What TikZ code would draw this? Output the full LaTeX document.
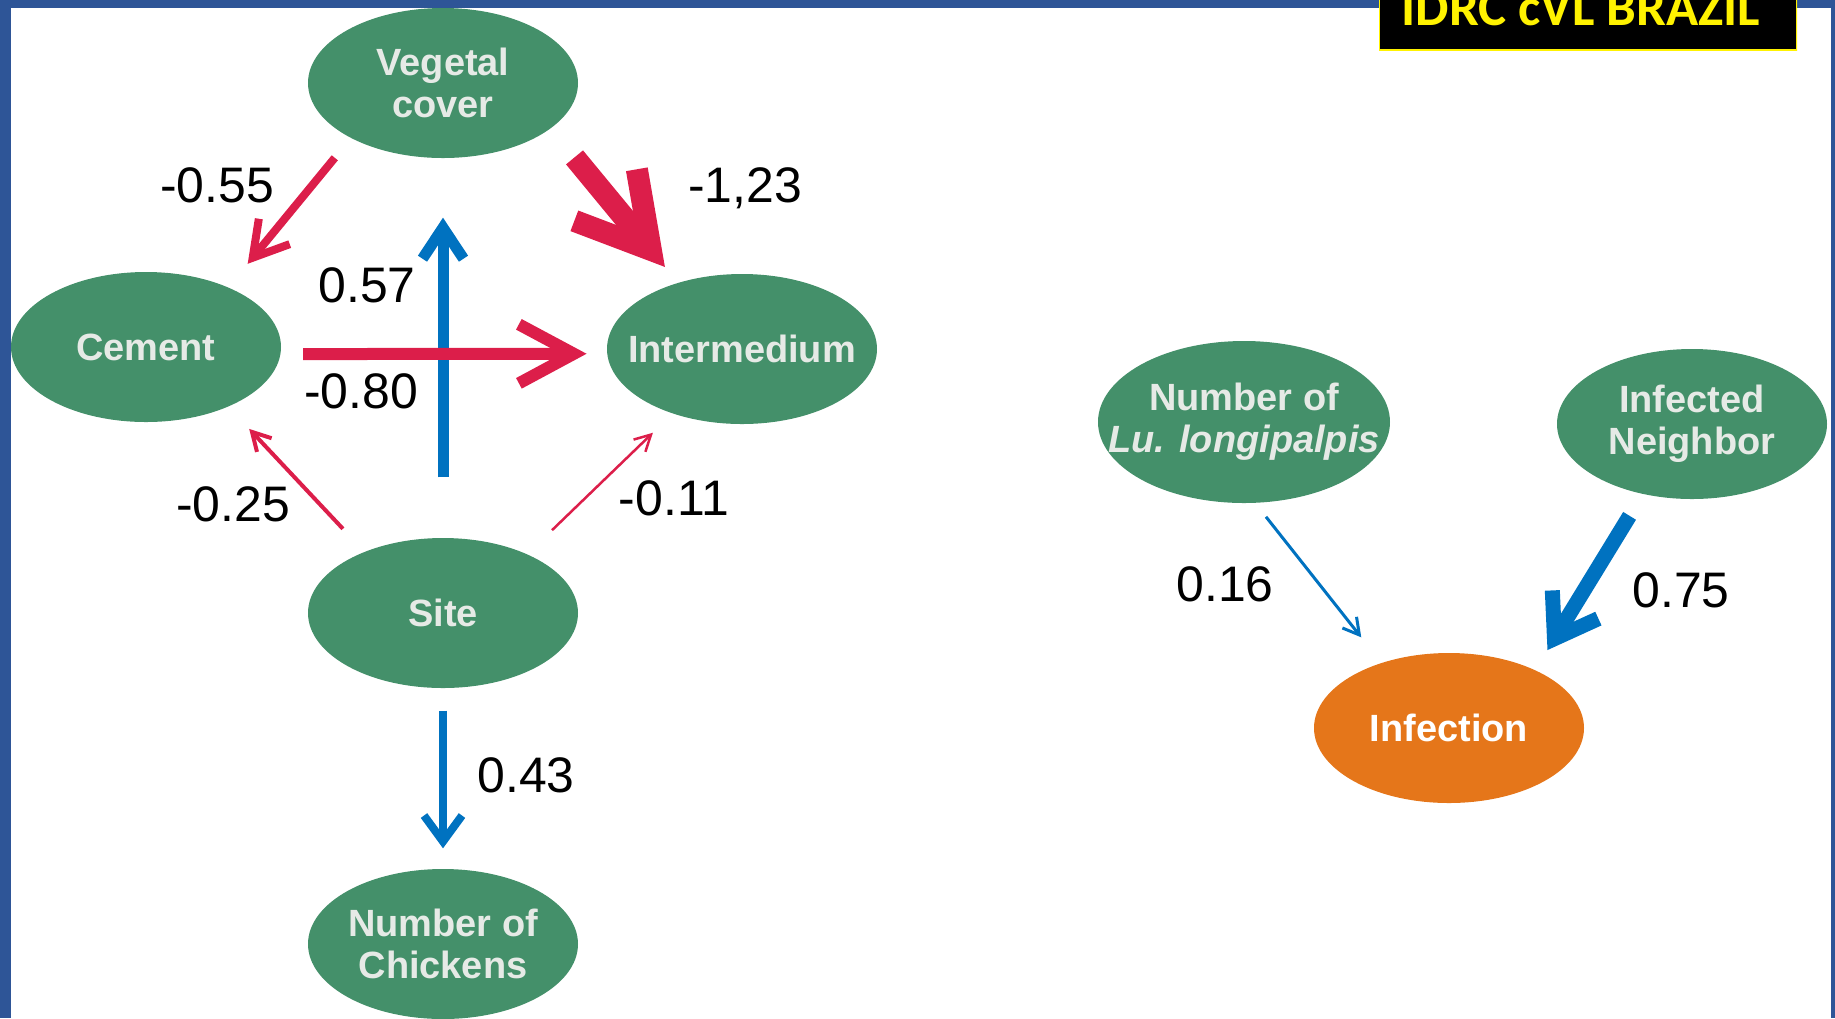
\documentclass[tikz,border=0pt]{standalone}
\usepackage{fontspec}
\setmainfont{Liberation Sans}
\newfontfamily\bannerfont{Carlito}
\usetikzlibrary{arrows.meta,shapes.geometric}

\definecolor{frameblue}{HTML}{2E5597}
\definecolor{blobgreen}{HTML}{44906A}
\definecolor{bloborange}{HTML}{E5761A}
\definecolor{negred}{HTML}{DC1E4A}
\definecolor{posblue}{HTML}{0072C0}
\definecolor{blobtext}{HTML}{E6EAE6}

\begin{document}
\begin{tikzpicture}[x=1cm, y=-1cm,
    blob/.style={ellipse, fill=blobgreen, minimum width=2.7cm, minimum height=1.5cm,
        inner xsep=-4mm, inner ysep=0pt, text=blobtext, align=center,
        font=\bfseries\fontsize{10.8}{12}\selectfont},
    coef/.style={anchor=base, font=\fontsize{14.2}{16}\selectfont},
    redpath/.style n args={3}{draw=negred, line width=#1, -{Straight Barb[length=#2, width=#3]}},
    bluepath/.style n args={3}{draw=posblue, line width=#1, -{Straight Barb[length=#2, width=#3]}}
]
\useasboundingbox (0,0) rectangle (18.35,10.18);

%% frame
\fill[frameblue] (0,0) rectangle (0.11,10.18);
\fill[frameblue] (0,0) rectangle (18.35,0.08);
\fill[frameblue] (18.31,0) rectangle (18.35,10.18);

%% banner
\begin{scope}
\clip (13.79,0) rectangle (17.97,0.51);
\draw[yellow, fill=black, line width=0.2mm] (13.79,-0.2) rectangle (17.97,0.50);
\node[anchor=base, text=yellow, font=\bannerfont\bfseries\fontsize{15.1}{18}\selectfont]
    (banner) at (15.81,0.25) {IDRC cVL BRAZIL};
\end{scope}

%% left model
\node[blob] (veg)   at (4.43,0.83) {Vegetal\\cover};
\node[blob] (cem)   at (1.46,3.47) {Cement};
\node[blob] (inter) at (7.42,3.49) {Intermedium};
\node[blob] (site)  at (4.43,6.13) {Site};
\node[blob] (chick) at (4.43,9.44) {Number of\\Chickens};

\draw[bluepath={1.1mm}{3.1mm}{4.1mm}, shorten <=6mm, shorten >=5.9mm] (site.north) -- (veg.south);
\draw[bluepath={0.8mm}{2.6mm}{3.8mm}, shorten <=2.2mm, shorten >=2mm] (site.south) -- (chick.north);
\draw[redpath={0.8mm}{3.4mm}{4mm}, shorten <=2.5mm, shorten >=3mm] (veg.211.5) -- (cem.36.3);
\draw[redpath={2.2mm}{7.1mm}{8.1mm}, shorten <=3.7mm, shorten >=2mm] (veg.337.5) -- (inter.134);
\draw[redpath={1.2mm}{5.5mm}{5.9mm}, shorten <=2.2mm, shorten >=2mm] (cem.-3.4) -- (inter.182.5);
\draw[redpath={0.4mm}{1.8mm}{2mm}, shorten <=3.1mm, shorten >=3mm] (site.142.3) -- (cem.324.8);
\draw[redpath={0.25mm}{1.6mm}{1.7mm}, shorten <=3.4mm, shorten >=2.7mm] (site.35.1) -- (inter.223.2);

\node[coef] (c55) at (2.17,2.02) {-0.55};
\node[coef] (c123) at (7.45,2.02) {-1,23};
\node[coef] (c57) at (3.67,3.02) {0.57};
\node[coef] (c80) at (3.61,4.08) {-0.80};
\node[coef] (c25) at (2.33,5.21) {-0.25};
\node[coef] (c11) at (6.74,5.15) {-0.11};
\node[coef] (c43) at (5.26,7.92) {0.43};

%% right model
\node[blob, minimum width=2.92cm, minimum height=1.62cm] (lu) at (12.44,4.22) {Number of\\\textit{Lu. longipalpis}};
\node[blob] (nb)  at (16.92,4.24) {Infected\\Neighbor};
\node[blob, fill=bloborange, text=white] (inf) at (14.49,7.28) {Infection};

\draw[bluepath={0.3mm}{1.6mm}{1.8mm}, shorten <=1.7mm, shorten >=3.2mm] (lu.278.3) -- (inf.136.6);
\draw[bluepath={1.5mm}{4mm}{5.4mm}, shorten <=2.5mm, shorten >=2.3mm] (nb.235) -- (inf.34.9);

\node[coef] (c16) at (12.25,6.01) {0.16};
\node[coef] (c75) at (16.81,6.07) {0.75};
\end{tikzpicture}
\end{document}
